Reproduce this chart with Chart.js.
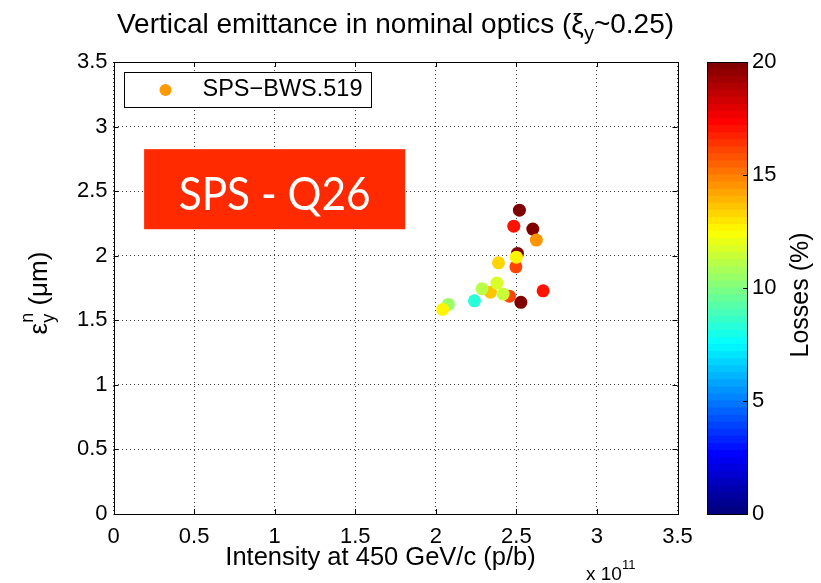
<!DOCTYPE html>
<html>
<head>
<meta charset="utf-8">
<title>Vertical emittance in nominal optics</title>
<script src="https://cdn.jsdelivr.net/npm/chart.js@4.4.0/dist/chart.umd.min.js"></script>
<style>
  html, body { margin: 0; padding: 0; background: #fff; }
  #wrap { position: relative; width: 821px; height: 583px; }
  #wrap canvas { position: absolute; left: 0; top: 0; }
</style>
</head>
<body>
<div id="wrap">
  <canvas id="emitChart" width="821" height="583"></canvas>
  <canvas id="lossBar" width="821" height="583"></canvas>
</div>
<script>
// bunch intensity (x 1e11 p/b), normalised vertical emittance (um), losses (%)
const intensity = [2.507, 2.497, 2.500, 2.519, 2.484, 2.602, 2.624, 2.389, 2.339,
                   2.287, 2.379, 2.457, 2.418, 2.528, 2.666, 2.240, 2.078, 2.043];
const emittance = [2.018, 1.914, 1.989, 2.353, 2.229, 2.206, 2.121, 1.945, 1.718,
                   1.744, 1.788, 1.687, 1.703, 1.639, 1.728, 1.651, 1.623, 1.584];
const losses    = [20, 16, 12.8, 20, 17, 20, 14.4, 13.2, 13.6,
                   11, 11.8, 16, 11.5, 20, 17, 8.3, 10.5, 12.7];

const axisTicks = [0, 0.5, 1, 1.5, 2, 2.5, 3, 3.5];
const lossTicks = [0, 5, 10, 15, 20];
const lossMax = 20;
const nLevels = 64;

const FONT = 'Liberation Sans, Arial, Helvetica, sans-serif';
Chart.defaults.font.family = FONT;
Chart.defaults.color = '#000';

// MATLAB-style jet colormap
function jet(v) {
  const c = t => Math.round(255 * Math.max(0, Math.min(1, 1.5 - Math.abs(t))));
  return `rgb(${c(4 * v - 3)},${c(4 * v - 2)},${c(4 * v - 1)})`;
}
function lossColor(l) {
  const i = Math.max(0, Math.min(nLevels - 1, Math.floor(l / lossMax * nLevels)));
  return jet(i / (nLevels - 1));
}

// draw a row of text pieces, each with its own size and vertical offset
function drawRuns(ctx, runs, x, y, align) {
  const widths = runs.map(r => {
    ctx.font = `${r.size}px ${FONT}`;
    return ctx.measureText(r.t).width;
  });
  const total = widths.reduce((a, b) => a + b, 0);
  let cx = align === 'center' ? x - total / 2 : x;
  ctx.textBaseline = 'alphabetic';
  ctx.textAlign = 'left';
  runs.forEach((r, i) => {
    ctx.font = `${r.size}px ${FONT}`;
    ctx.fillText(r.t, cx, y + (r.dy || 0));
    cx += widths[i];
  });
}

const decor = {
  id: 'decor',
  afterDatasetsDraw(chart) {
    const {ctx, chartArea: a, scales: {x, y}} = chart;
    ctx.save();

    // red tag box
    const bx0 = x.getPixelForValue(0.19), bx1 = x.getPixelForValue(1.81);
    const by0 = y.getPixelForValue(2.825), by1 = y.getPixelForValue(2.205);
    ctx.fillStyle = '#ff2a00';
    ctx.fillRect(bx0, by0, bx1 - bx0, by1 - by0);
    ctx.fillStyle = '#fff';
    ctx.font = '46px Lato, "Open Sans", sans-serif';
    ctx.textAlign = 'center';
    ctx.textBaseline = 'alphabetic';
    const tag = 'SPS - Q26';
    const tw = ctx.measureText(tag).width;
    const sx = Math.min(1, 192 / tw);
    ctx.save();
    ctx.translate((bx0 + bx1) / 2, by0 + 61);
    ctx.scale(sx, 1);
    ctx.fillText(tag, 0, 0);
    ctx.restore();

    // legend box
    const lx = a.left + 10, ly = a.top + 10;
    ctx.fillStyle = '#fff';
    ctx.fillRect(lx, ly, 247, 35);
    ctx.strokeStyle = '#000';
    ctx.lineWidth = 1;
    ctx.strokeRect(Math.round(lx) + 0.5, Math.round(ly) + 0.5, 247, 35);
    ctx.fillStyle = '#ff9900';
    ctx.beginPath();
    ctx.arc(lx + 42, ly + 18, 6, 0, Math.PI * 2);
    ctx.fill();
    ctx.fillStyle = '#000';
    ctx.font = `23.5px ${FONT}`;
    ctx.textAlign = 'left';
    ctx.textBaseline = 'middle';
    ctx.fillText('SPS\u2212BWS.519', lx + 79, ly + 18);
    ctx.restore();
  },
  afterDraw(chart) {
    const {ctx, chartArea: a, scales: {x, y}} = chart;
    ctx.save();
    ctx.strokeStyle = '#000';
    ctx.lineWidth = 1;

    // axes box with inward ticks on all sides
    ctx.strokeRect(Math.round(a.left) + 0.5, Math.round(a.top) + 0.5,
                   Math.round(a.right - a.left), Math.round(a.bottom - a.top));
    ctx.beginPath();
    axisTicks.forEach(v => {
      const px = Math.round(x.getPixelForValue(v)) + 0.5;
      ctx.moveTo(px, a.bottom); ctx.lineTo(px, a.bottom - 5);
      ctx.moveTo(px, a.top); ctx.lineTo(px, a.top + 5);
      const py = Math.round(y.getPixelForValue(v)) + 0.5;
      ctx.moveTo(a.left, py); ctx.lineTo(a.left + 5, py);
      ctx.moveTo(a.right, py); ctx.lineTo(a.right - 5, py);
    });
    ctx.stroke();

    ctx.fillStyle = '#000';
    const mid = (a.left + a.right) / 2;

    // title with subscript
    drawRuns(ctx, [
      {t: 'Vertical emittance in nominal optics (\u03be', size: 28},
      {t: 'y', size: 20, dy: 7},
      {t: '~0.25)', size: 28}
    ], mid, 33, 'center');

    // x axis title and multiplier
    drawRuns(ctx, [{t: 'Intensity at 450 GeV/c (p/b)', size: 25.5}], mid - 15, 565, 'center');
    drawRuns(ctx, [
      {t: 'x 10', size: 19},
      {t: '11', size: 13, dy: -11}
    ], 586, 580, 'left');

    // y axis title: epsilon with stacked sub/superscript
    ctx.save();
    ctx.translate(47, 293);
    ctx.rotate(-Math.PI / 2);
    ctx.font = `26px ${FONT}`;
    const wEps = ctx.measureText('\u03b5').width;
    ctx.font = `18px ${FONT}`;
    const wSc = Math.max(ctx.measureText('y').width, ctx.measureText('n').width);
    ctx.font = `26px ${FONT}`;
    const wRest = ctx.measureText(' (\u03bcm)').width;
    let cx = -(wEps + wSc + wRest) / 2;
    ctx.textBaseline = 'alphabetic';
    ctx.textAlign = 'left';
    ctx.fillText('\u03b5', cx, 0);
    cx += wEps;
    ctx.font = `18px ${FONT}`;
    ctx.fillText('y', cx, 7);
    ctx.fillText('n', cx, -14);
    cx += wSc;
    ctx.font = `26px ${FONT}`;
    ctx.fillText(' (\u03bcm)', cx, 0);
    ctx.restore();

    ctx.restore();
  }
};

const setTicks = list => scale => { scale.ticks = list.map(v => ({value: v})); };
const plainLabel = v => String(v);

new Chart(document.getElementById('emitChart'), {
  type: 'scatter',
  data: {
    datasets: [{
      label: 'SPS\u2212BWS.519',
      data: intensity.map((v, i) => ({x: v, y: emittance[i]})),
      backgroundColor: losses.map(lossColor),
      borderWidth: 0,
      pointRadius: 6.5,
      pointHoverRadius: 6.5
    }]
  },
  options: {
    responsive: false,
    animation: false,
    layout: {padding: {left: 0, top: 62, right: 143.5, bottom: 0}},
    plugins: {legend: {display: false}, tooltip: {enabled: false}},
    scales: {
      x: {
        type: 'linear', min: 0, max: 3.5,
        afterBuildTicks: setTicks(axisTicks),
        ticks: {font: {size: 22}, padding: 10, maxRotation: 0, callback: plainLabel},
        grid: {color: 'rgba(0,0,0,0.75)', drawTicks: false},
        border: {display: false, dash: [1, 3]},
        afterFit: s => { s.height = 69; }
      },
      y: {
        type: 'linear', min: 0, max: 3.5,
        afterBuildTicks: setTicks(axisTicks),
        ticks: {font: {size: 22}, padding: 6, callback: plainLabel},
        grid: {color: 'rgba(0,0,0,0.75)', drawTicks: false},
        border: {display: false, dash: [1, 3]},
        afterFit: s => { s.width = 113.5; }
      }
    }
  },
  plugins: [decor]
});

// colour bar for the losses
const barFrame = {
  id: 'barFrame',
  afterDraw(chart) {
    const {ctx, chartArea: a, scales: {y}} = chart;
    ctx.save();
    ctx.strokeStyle = '#000';
    ctx.lineWidth = 1;
    ctx.strokeRect(Math.round(a.left) + 0.5, Math.round(a.top) + 0.5,
                   Math.round(a.right - a.left), Math.round(a.bottom - a.top));
    ctx.beginPath();
    lossTicks.forEach(v => {
      const py = Math.round(y.getPixelForValue(v)) + 0.5;
      ctx.moveTo(a.right, py); ctx.lineTo(a.right - 4, py);
    });
    ctx.stroke();
    ctx.translate(808, 295);
    ctx.rotate(-Math.PI / 2);
    ctx.fillStyle = '#000';
    ctx.font = `25px ${FONT}`;
    ctx.textAlign = 'center';
    ctx.textBaseline = 'alphabetic';
    ctx.fillText('Losses (%)', 0, 0);
    ctx.restore();
  }
};

const levels = Array.from({length: nLevels}, (_, i) => i);
new Chart(document.getElementById('lossBar'), {
  type: 'bar',
  data: {
    labels: ['losses'],
    datasets: levels.map(i => ({
      data: [lossMax / nLevels],
      backgroundColor: jet(i / (nLevels - 1)),
      borderWidth: 0,
      inflateAmount: 0.5,
      barPercentage: 1,
      categoryPercentage: 1
    }))
  },
  options: {
    responsive: false,
    animation: false,
    layout: {padding: {left: 707, top: 62, right: 0, bottom: 69}},
    plugins: {legend: {display: false}, tooltip: {enabled: false}},
    scales: {
      x: {display: false, stacked: true},
      y: {
        position: 'right', stacked: true, min: 0, max: lossMax,
        afterBuildTicks: setTicks(lossTicks),
        ticks: {font: {size: 22}, padding: 5, callback: plainLabel},
        grid: {display: false, drawTicks: false},
        border: {display: false},
        afterFit: s => { s.width = 74; }
      }
    }
  },
  plugins: [barFrame]
});
</script>
</body>
</html>
